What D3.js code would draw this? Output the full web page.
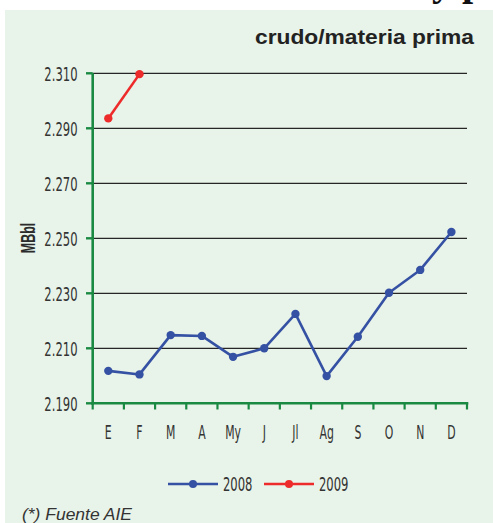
<!DOCTYPE html>
<html>
<head>
<meta charset="utf-8">
<script src="https://cdn.jsdelivr.net/npm/d3@7/dist/d3.min.js"></script>
<style>
  html, body { margin: 0; padding: 0; background: #ffffff; }
  svg { display: block; }
</style>
</head>
<body>
<svg id="chart" width="493" height="523"></svg>
<script>
// Monthly crude / raw material series (MBbl)
const months = ["E", "F", "M", "A", "My", "J", "Jl", "Ag", "S", "O", "N", "D"];
const values2008 = [2.2018, 2.2005, 2.2148, 2.2145, 2.2069, 2.2100, 2.2225, 2.1999, 2.2142, 2.2302, 2.2385, 2.2523];
const values2009 = [2.2936, 2.3097];
const yTicks = [2.190, 2.210, 2.230, 2.250, 2.270, 2.290, 2.310];
const yTickLabels = ["2.190", "2.210", "2.230", "2.250", "2.270", "2.290", "2.310"];
const seriesNames = ["2008", "2009"];
const seriesColors = ["#3551a3", "#ee2b2b"];

const svg = d3.select("#chart");
const axisGreen = "#1a8a43";
const textColor = "#333333";
const condensed = "'Liberation Sans Narrow', 'DejaVu Sans Condensed', 'Liberation Sans', sans-serif";

// Heading text running off the top edge
svg.append("text")
  .attr("x", 432).attr("y", -5)
  .attr("font-family", "'Liberation Serif', 'DejaVu Serif', serif")
  .attr("font-weight", "bold")
  .attr("font-size", 40)
  .attr("fill", "#111")
  .text("y p");

// Panel background
svg.append("rect")
  .attr("x", 5).attr("y", 10)
  .attr("width", 488).attr("height", 513)
  .attr("fill", "#e8f3e9");

// Title
svg.append("text")
  .attr("x", 255).attr("y", 44)
  .attr("textLength", 219)
  .attr("lengthAdjust", "spacingAndGlyphs")
  .attr("font-family", "'Liberation Sans', Arial, sans-serif")
  .attr("font-weight", "bold")
  .attr("font-size", 20)
  .attr("fill", "#222")
  .text("crudo/materia prima");

const x = d3.scaleBand().domain(months).range([92.7, 467]);
const y = d3.scaleLinear().domain([2.190, 2.310]).range([403.3, 73.3]);

// Horizontal gridlines
svg.append("g")
  .selectAll("line")
  .data(yTicks.slice(1))
  .join("line")
  .attr("x1", 92.7).attr("x2", 467)
  .attr("y1", d => y(d)).attr("y2", d => y(d))
  .attr("stroke", "#262626")
  .attr("stroke-width", 1.2);

// Helper for condensed labels
function condensedText(sel, fx, fy, anchor, sx) {
  sel.attr("transform", d => `translate(${fx(d)},${fy(d)}) scale(${sx},1)`)
    .attr("text-anchor", anchor)
    .attr("font-family", condensed)
    .attr("font-size", 19.5)
    .attr("fill", textColor);
}

// Y axis
const yAxis = svg.append("g");
yAxis.append("line")
  .attr("x1", 92.7).attr("x2", 92.7)
  .attr("y1", y(2.310)).attr("y2", 404.5)
  .attr("stroke", axisGreen).attr("stroke-width", 2.6);
yAxis.selectAll("line.tick")
  .data(yTicks)
  .join("line")
  .attr("class", "tick")
  .attr("x1", 86).attr("x2", 92.7)
  .attr("y1", d => y(d)).attr("y2", d => y(d))
  .attr("stroke", axisGreen).attr("stroke-width", 2.4);
yAxis.selectAll("text")
  .data(yTicks)
  .join("text")
  .call(condensedText, () => 77.5, d => y(d) + 7.5, "end", 0.66)
  .text((d, i) => yTickLabels[i]);

// X axis
const xAxis = svg.append("g");
xAxis.append("line")
  .attr("x1", 91.4).attr("x2", 468.3)
  .attr("y1", 403.3).attr("y2", 403.3)
  .attr("stroke", axisGreen).attr("stroke-width", 2.6);
const boundaries = months.map(m => x(m)).concat([x.range()[1]]);
xAxis.selectAll("line.tick")
  .data(boundaries)
  .join("line")
  .attr("class", "tick")
  .attr("x1", d => d).attr("x2", d => d)
  .attr("y1", 403.3).attr("y2", 409.5)
  .attr("stroke", axisGreen).attr("stroke-width", 2.2);
xAxis.selectAll("text")
  .data(months)
  .join("text")
  .call(condensedText, d => x(d) + x.bandwidth() / 2, () => 439, "middle", 0.62)
  .text(d => d);

// Y axis unit
svg.append("text")
  .attr("transform", "translate(35,238) rotate(-90) scale(0.62,1)")
  .attr("text-anchor", "middle")
  .attr("font-family", "'Liberation Sans', Arial, sans-serif")
  .attr("font-weight", "bold")
  .attr("font-size", 20)
  .attr("fill", "#2b2b2b")
  .text("MBbl");

// Series lines and markers
const line = d3.line()
  .x((d, i) => x(months[i]) + x.bandwidth() / 2)
  .y(d => y(d));

[values2008, values2009].forEach((vals, s) => {
  const g = svg.append("g");
  g.append("path")
    .datum(vals)
    .attr("d", line)
    .attr("fill", "none")
    .attr("stroke", seriesColors[s])
    .attr("stroke-width", 2.6)
    .attr("stroke-linejoin", "round");
  g.selectAll("circle")
    .data(vals)
    .join("circle")
    .attr("cx", (d, i) => x(months[i]) + x.bandwidth() / 2)
    .attr("cy", d => y(d))
    .attr("r", 4.2)
    .attr("fill", seriesColors[s]);
});

// Legend
const legendX = [168, 264];
const legend = svg.append("g");
seriesNames.forEach((name, i) => {
  const lx = legendX[i];
  legend.append("line")
    .attr("x1", lx).attr("x2", lx + 50)
    .attr("y1", 484).attr("y2", 484)
    .attr("stroke", seriesColors[i]).attr("stroke-width", 2.6);
  legend.append("circle")
    .attr("cx", lx + 25).attr("cy", 484).attr("r", 4)
    .attr("fill", seriesColors[i]);
  legend.append("text")
    .datum(name)
    .call(condensedText, () => lx + 55, () => 491, "start", 0.66)
    .text(name);
});

// Source note
svg.append("text")
  .attr("x", 22).attr("y", 520)
  .attr("textLength", 110)
  .attr("lengthAdjust", "spacingAndGlyphs")
  .attr("font-family", "'Liberation Sans', Arial, sans-serif")
  .attr("font-style", "italic")
  .attr("font-size", 16)
  .attr("fill", "#333")
  .text("(*) Fuente AIE");
</script>
</body>
</html>
